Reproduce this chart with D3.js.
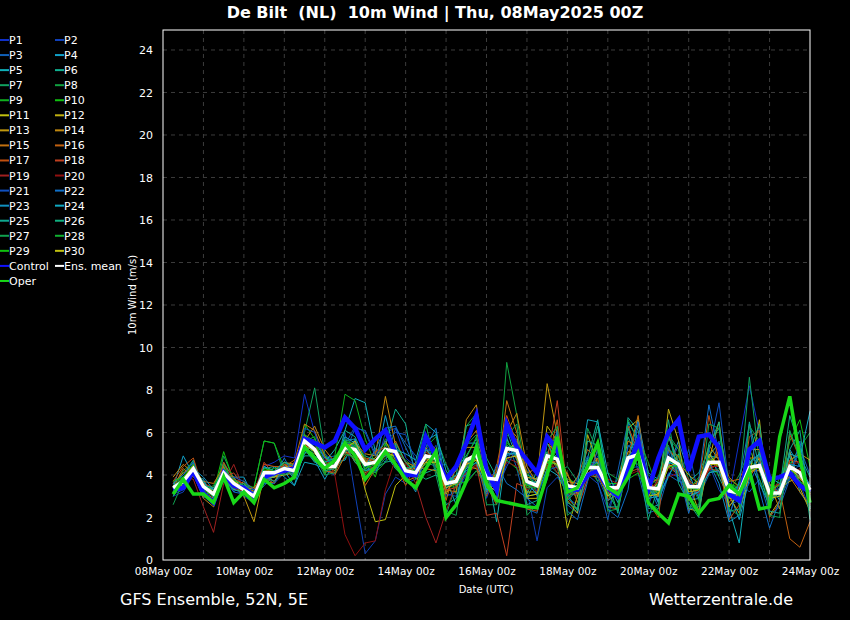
<!DOCTYPE html>
<html><head><meta charset="utf-8">
<script src="https://cdn.jsdelivr.net/npm/d3@7"></script>
<style>
html,body{margin:0;padding:0;background:#000;}
svg{display:block;font-family:"DejaVu Sans",sans-serif;}
</style></head>
<body>
<svg id="c" width="850" height="620"></svg>
<script>
// ---- data (m/s), 6-hourly from 08May 06z to 24May 00z ----
const runStart = "2025-05-08T00:00:00Z";
const runEnd = "2025-05-24T00:00:00Z";
const stepHours = 6;
const yTicks = [0,2,4,6,8,10,12,14,16,18,20,22,24];
const xTickLabels = ["08May 00z","10May 00z","12May 00z","14May 00z","16May 00z","18May 00z","20May 00z","22May 00z","24May 00z"];
const memberNames = ["P1","P2","P3","P4","P5","P6","P7","P8","P9","P10","P11","P12","P13","P14","P15","P16","P17","P18","P19","P20","P21","P22","P23","P24","P25","P26","P27","P28","P29","P30"];
const memberColors = ["#1030c8","#1040b8","#1060b8","#10a0c8","#10b0b8","#10b090","#10a060","#10a040","#10b020","#10c010","#c0c010","#c0b010","#c09810","#c08810","#c07010","#c06010","#c05010","#c04020","#a02020","#901010","#1050c0","#1070c8","#1090c0","#10a8c0","#10a890","#10b080","#10a050","#10b030","#10c010","#c0c010"];

const P1 = [3.2,3.5,4.6,3.0, 2.8,4.3,3.4,3.0, 2.7,4.4,4.6,4.9, 4.8,7.8,6.0,5.0, 4.6,5.5,5.0,3.9, 4.2,6.0,6.2,4.8, 4.4,5.5,4.2,3.0, 3.2,4.0,5.5,4.2, 3.1,4.6,5.7,4.4, 3.2,5.6,5.1,2.9, 2.6,3.8,4.9,3.8, 2.9,5.3,5.9,3.9, 2.8,4.1,3.9,2.6, 3.6,5.0,4.1,3.0, 5.6,8.2,6.0,3.4, 3.1,5.1,3.6,2.4];
const P2 = [3.0,3.2,4.0,2.9, 3.4,3.8,3.2,3.6, 3.2,3.9,3.6,4.1, 4.5,5.9,5.6,4.2, 4.0,6.0,3.1,0.3, 0.9,3.1,3.9,3.6, 3.8,4.6,5.4,3.1, 3.0,4.2,4.6,2.9, 4.1,4.9,5.6,3.3, 0.9,3.4,3.9,3.2, 3.1,4.0,3.6,2.4, 3.6,4.3,4.4,2.5, 4.0,4.4,5.4,3.1, 3.2,4.5,3.3,2.6, 2.8,3.9,4.9,2.7, 3.6,4.0,4.5,3.0];
const P3 = [3.3,3.6,4.4,3.6, 3.3,3.9,3.8,3.5, 3.3,4.0,3.9,4.6, 4.4,5.3,5.7,4.8, 4.9,5.0,6.2,6.1, 5.0,4.6,6.2,5.5, 4.9,4.6,4.4,4.5, 3.6,3.7,4.2,3.5, 2.9,5.8,4.3,2.4, 2.2,4.3,6.1,2.6, 2.2,4.8,3.7,1.9, 4.2,6.5,4.1,2.2, 2.4,4.0,3.7,5.2, 3.0,4.0,5.6,2.0, 3.7,3.2,3.8,2.1, 2.5,3.8,5.3,4.0];
const P4 = [3.4,4.9,4.0,3.8, 2.9,4.5,3.9,3.9, 2.9,3.6,4.4,3.9, 3.5,5.2,4.7,3.8, 4.6,4.7,5.7,4.2, 4.4,6.8,4.9,4.3, 4.5,4.2,5.2,3.8, 2.6,5.5,5.5,3.3, 3.6,6.1,4.8,2.9, 3.9,4.5,5.0,3.6, 3.1,4.3,4.6,3.2, 2.3,4.6,6.6,4.1, 3.8,4.4,5.6,4.1, 2.9,4.9,4.8,3.2, 1.9,3.8,5.1,3.6, 2.8,5.2,4.4,3.5];
const P5 = [3.1,3.5,4.4,3.3, 3.4,4.4,3.3,3.5, 2.8,4.4,4.0,4.5, 4.1,5.3,4.9,4.6, 5.2,6.1,7.6,7.4, 5.1,5.0,4.3,4.0, 3.9,5.6,5.9,3.3, 4.3,4.9,5.7,4.4, 1.8,5.2,5.4,4.0, 3.8,5.7,5.0,3.3, 3.9,4.7,3.9,3.6, 2.7,6.5,5.7,2.9, 3.0,3.9,5.0,2.8, 2.9,4.9,5.5,2.4, 0.8,4.7,3.6,2.6, 3.3,4.9,3.2,2.5];
const P6 = [3.6,4.0,4.7,3.1, 3.2,4.6,3.5,3.0, 3.1,4.3,4.4,4.1, 4.6,5.8,5.3,4.9, 4.3,6.1,5.8,4.7, 4.5,5.4,7.1,6.4, 3.8,4.1,4.3,2.6, 2.9,4.4,5.3,3.9, 3.9,5.7,4.7,3.1, 4.2,5.1,4.4,2.9, 3.5,4.8,6.6,3.2, 3.8,5.8,4.7,2.8, 3.6,5.9,4.2,3.7, 4.1,5.2,3.9,2.9, 3.6,4.1,5.0,3.8, 3.0,6.0,4.9,3.9];
const P7 = [3.0,3.9,4.2,3.7, 2.9,4.9,3.8,3.2, 3.4,5.6,5.5,4.0, 4.2,6.0,8.1,5.0, 4.3,4.8,5.3,4.2, 5.1,5.5,4.3,3.8, 4.5,5.9,4.0,2.1, 3.6,5.6,6.8,3.3, 4.0,5.0,5.4,3.9, 3.6,4.6,4.1,4.4, 3.7,4.0,4.2,3.1, 3.2,4.7,5.2,4.0, 3.7,5.4,3.8,3.2, 3.6,4.1,4.3,3.6, 3.3,8.6,4.6,3.5, 3.0,4.0,3.7,2.9];
const P8 = [3.2,4.2,4.6,3.5, 3.0,3.8,3.4,3.7, 3.1,4.0,3.9,4.6, 4.0,5.0,5.2,4.3, 4.6,5.6,5.0,4.6, 4.2,4.8,5.0,4.7, 4.3,5.3,5.8,4.5, 3.1,6.3,6.9,4.6, 3.2,9.3,6.8,3.6, 3.4,5.0,6.0,3.2, 3.0,4.4,3.7,4.1, 3.8,4.7,4.5,3.4, 3.9,5.7,5.2,3.8, 2.8,4.3,4.5,3.2, 4.0,5.2,4.2,2.9, 3.4,4.5,5.3,6.0];
const P9 = [3.5,3.9,4.4,3.3, 3.5,4.5,3.6,3.4, 3.0,4.2,4.3,4.3, 4.3,5.4,5.6,4.0, 4.9,7.8,7.5,5.7, 4.5,5.7,5.3,4.6, 4.2,5.2,4.6,3.5, 3.4,4.8,5.8,3.4, 4.1,5.6,5.0,4.2, 3.1,5.5,4.6,3.8, 3.6,4.4,4.1,3.7, 2.9,4.5,5.8,4.6, 3.2,5.2,4.9,2.9, 3.4,4.4,4.0,3.8, 3.5,4.9,3.8,2.7, 3.9,4.6,4.0,2.8];
const P10 = [3.3,3.7,4.1,3.1, 3.2,5.1,3.7,3.6, 3.4,5.6,5.5,4.3, 3.9,6.4,5.7,4.9, 4.5,5.2,5.4,4.8, 3.9,5.5,5.2,4.3, 4.2,4.5,5.1,3.9, 3.7,3.6,4.2,3.5, 4.0,4.7,4.3,3.4, 3.7,4.4,5.2,4.0, 3.3,4.2,4.6,3.6, 3.6,3.8,4.1,3.0, 3.3,4.6,4.9,3.3, 3.9,4.5,5.1,3.6, 3.4,4.3,4.3,3.4, 3.5,5.6,6.6,4.4];
const P11 = [3.5,3.4,4.3,3.4, 3.3,3.9,3.5,3.1, 2.9,3.7,3.6,4.5, 4.2,5.5,4.7,4.2, 4.1,5.3,5.3,3.3, 1.8,1.9,3.5,4.0, 4.6,4.8,4.5,3.8, 3.5,4.8,4.7,3.9, 3.4,5.1,5.6,3.2, 3.2,4.6,4.5,1.5, 3.0,4.3,4.3,3.2, 3.3,4.6,5.1,3.0, 3.7,4.5,4.1,3.6, 2.3,5.0,4.4,3.0, 3.1,4.1,4.8,2.7, 3.4,3.7,3.9,3.5];
const P12 = [3.2,3.8,4.5,3.6, 3.0,4.0,3.9,3.2, 3.2,3.8,3.9,4.0, 4.1,5.2,5.0,4.6, 4.4,5.1,4.8,4.6, 4.8,5.6,4.7,4.3, 4.3,4.6,5.1,3.1, 4.0,4.4,4.3,3.6, 3.5,6.5,4.9,2.9, 2.9,6.3,5.6,2.8, 2.2,5.9,4.5,2.8, 3.1,6.2,6.6,3.3, 3.0,7.1,5.6,2.4, 2.3,4.7,6.5,3.0, 2.2,4.0,6.6,2.1, 2.8,5.1,3.4,2.3];
const P13 = [3.6,4.1,4.4,3.2, 2.9,4.2,3.5,3.0, 1.8,4.0,3.7,4.4, 4.4,5.9,5.1,4.5, 4.2,5.4,4.6,4.1, 4.4,4.9,5.0,3.8, 3.5,5.3,4.4,3.8, 4.2,5.3,5.3,3.2, 4.2,6.3,5.8,3.9, 3.8,8.3,5.9,3.7, 3.6,4.1,4.0,3.0, 3.5,5.1,5.0,3.5, 3.1,5.2,4.6,4.0, 3.6,4.8,4.5,3.5, 2.9,4.2,4.2,3.0, 3.1,4.4,3.8,3.4];
const P14 = [3.9,4.5,4.1,2.9, 2.5,3.9,3.3,3.7, 3.3,4.2,4.2,4.6, 4.5,5.6,6.3,5.2, 4.6,5.4,5.5,5.0, 4.9,7.7,5.4,3.7, 3.9,4.3,4.2,3.3, 3.2,6.6,7.3,4.1, 3.3,6.0,6.9,4.4, 3.6,5.5,5.0,4.0, 3.1,4.2,4.8,2.8, 3.6,5.6,5.3,3.8, 3.1,4.4,4.0,3.4, 3.7,5.4,4.7,3.1, 3.3,5.2,5.2,3.6, 2.4,4.7,5.0,4.7];
const P15 = [3.4,4.3,3.9,3.7, 3.6,4.4,3.4,3.3, 3.4,4.1,4.0,4.1, 4.6,6.4,6.1,4.9, 4.0,4.9,5.4,4.7, 4.7,4.9,5.6,4.6, 4.4,4.3,4.9,2.8, 4.5,5.5,6.1,3.9, 3.7,7.5,6.0,4.1, 4.3,5.0,4.3,4.1, 2.7,4.0,3.9,3.5, 3.2,4.8,6.8,3.3, 3.0,4.7,4.5,2.8, 3.8,4.2,5.2,3.9, 3.4,3.9,4.6,3.1, 3.6,3.9,3.2,2.6];
const P16 = [3.1,3.8,4.2,3.0, 3.1,4.3,3.7,3.1, 3.3,3.9,3.6,4.4, 4.7,5.5,5.3,4.1, 4.5,5.1,5.6,3.5, 4.3,5.3,4.6,3.5, 4.5,4.7,5.0,3.2, 3.9,4.5,5.2,3.5, 2.6,5.1,4.8,3.7, 3.4,4.7,4.6,3.2, 3.9,5.2,4.7,3.4, 3.3,4.6,4.8,3.6, 3.8,5.1,4.9,3.4, 3.4,4.3,4.5,3.7, 3.8,4.8,4.8,2.9, 3.3,1.0,0.6,1.8];
const P17 = [3.7,4.4,4.8,3.3, 2.6,4.6,3.8,3.6, 3.0,4.5,4.4,4.4, 3.8,5.7,5.5,4.4, 4.5,5.2,4.7,4.8, 4.7,5.0,5.1,4.2, 4.0,5.7,5.2,3.9, 3.7,4.5,4.7,3.0, 4.4,6.8,5.5,2.4, 2.3,4.4,6.6,2.9, 2.4,3.8,5.2,2.5, 2.4,6.3,5.1,2.7, 2.0,5.9,4.6,2.3, 3.6,6.8,4.6,1.9, 2.6,5.8,6.1,2.0, 2.7,5.9,4.8,2.4];
const P18 = [3.2,3.6,4.0,3.6, 3.4,3.9,4.1,3.4, 3.1,4.6,4.0,4.5, 4.4,5.7,5.2,4.2, 4.1,5.3,5.1,4.6, 5.1,5.3,4.9,4.3, 4.2,5.1,4.7,3.3, 3.4,4.1,4.5,2.1, 2.2,0.2,3.6,3.4, 3.6,4.7,7.5,3.1, 3.1,4.1,4.1,3.1, 3.4,4.1,4.3,3.2, 3.3,4.5,4.3,3.8, 3.2,4.3,4.2,2.7, 3.4,4.0,4.5,3.4, 3.2,4.7,4.6,3.1];
const P19 = [3.4,3.9,3.8,2.5, 1.3,3.6,4.5,3.3, 3.0,3.9,4.2,4.1, 4.5,5.4,5.3,4.5, 4.6,5.0,5.0,4.0, 4.6,4.9,5.2,4.6, 3.6,2.0,0.8,2.3, 3.6,4.1,4.4,3.9, 4.1,4.8,4.6,3.6, 3.2,4.9,4.1,3.4, 3.4,4.5,4.2,3.8, 3.6,4.8,4.8,3.1, 3.8,4.3,4.2,3.7, 3.1,4.4,4.4,3.2, 3.0,4.1,4.4,3.4, 3.6,4.0,4.3,3.0];
const P20 = [3.3,3.6,4.1,3.2, 3.2,3.8,3.4,3.2, 3.1,4.1,4.0,4.2, 4.0,5.2,5.6,4.8, 4.0,1.2,0.2,0.8, 0.9,3.3,4.8,4.5, 4.2,5.0,4.5,3.9, 3.9,4.3,4.9,3.6, 3.7,4.6,4.4,3.3, 3.6,4.5,4.3,3.4, 3.5,4.1,4.0,3.2, 3.6,4.0,4.2,3.3, 3.7,3.9,4.1,3.4, 3.3,4.2,4.6,3.1, 2.9,4.3,4.3,2.9, 3.4,4.5,4.6,3.2];
const P21 = [3.1,3.3,4.1,3.5, 3.0,3.7,3.9,3.7, 3.3,3.6,3.6,4.4, 4.1,6.2,6.0,4.6, 4.7,5.4,6.3,6.0, 4.9,5.6,6.0,5.9, 4.6,5.2,5.1,3.4, 3.7,4.3,5.2,3.7, 3.3,4.4,5.3,3.8, 3.0,4.2,4.4,3.0, 3.8,4.9,3.9,2.8, 3.2,4.9,4.7,3.6, 2.7,5.1,3.7,3.6, 3.4,5.1,7.4,3.4, 2.9,3.6,4.6,3.5, 3.0,4.2,3.9,3.3];
const P22 = [3.6,4.0,4.6,3.4, 3.1,4.0,3.2,3.1, 2.8,3.8,3.9,4.8, 3.9,5.4,4.6,4.5, 4.3,5.6,5.3,4.4, 5.2,6.2,6.3,5.3, 4.3,5.3,6.2,3.5, 3.8,4.0,5.3,3.1, 4.5,3.6,3.3,2.9, 2.5,3.8,6.1,2.3, 1.9,3.7,5.2,2.4, 2.0,3.3,6.5,3.5, 2.5,5.3,4.2,2.2, 3.8,7.3,5.0,2.0, 3.7,6.4,3.3,1.5, 2.8,3.9,5.6,2.7];
const P23 = [3.3,3.6,4.3,3.9, 3.3,4.1,3.4,3.4, 3.0,3.5,4.0,4.4, 3.8,5.0,5.6,4.8, 4.7,5.6,5.7,4.4, 4.1,5.1,5.4,4.0, 3.2,5.2,4.7,3.6, 4.0,4.6,4.8,4.1, 3.6,4.9,5.1,3.5, 3.7,5.0,4.7,2.8, 3.3,4.6,4.6,3.1, 3.0,5.4,4.9,3.4, 2.8,4.0,4.7,3.1, 3.4,4.6,3.6,1.8, 2.1,4.5,5.0,2.7, 3.4,4.5,4.4,3.5];
const P24 = [3.2,3.9,4.0,3.7, 3.0,4.3,3.6,3.5, 3.1,4.4,4.2,4.2, 3.5,4.6,4.5,4.3, 4.5,5.8,5.5,4.4, 4.6,4.9,5.2,5.0, 4.7,6.4,6.0,4.2, 3.5,4.3,4.6,3.3, 3.4,5.0,5.0,3.6, 3.1,4.3,4.0,3.2, 3.5,6.6,6.5,4.1, 3.0,4.9,5.3,3.8, 2.7,4.6,4.4,3.0, 3.2,4.1,4.2,2.9, 3.3,4.6,5.0,3.9, 3.6,5.0,4.8,7.0];
const P25 = [3.0,3.7,4.2,3.3, 3.3,3.8,3.3,3.2, 3.2,3.9,3.7,4.2, 4.0,4.9,4.9,4.2, 4.3,5.4,4.6,4.2, 4.3,4.6,4.7,4.3, 4.4,4.8,4.8,3.9, 3.7,4.2,4.6,4.0, 2.8,6.4,5.3,2.6, 2.8,5.5,4.6,2.7, 2.4,5.6,5.4,2.5, 2.5,6.7,6.1,2.4, 2.6,5.8,4.6,2.4, 2.5,5.3,6.5,2.3, 2.4,6.5,4.3,2.3, 2.2,5.2,6.1,2.4];
const P26 = [3.5,3.8,4.2,3.5, 3.4,4.1,3.4,3.6, 3.0,3.9,4.2,4.6, 4.4,5.2,4.6,4.6, 4.8,5.1,5.4,4.9, 4.7,5.0,5.5,4.6, 4.1,3.8,4.0,3.7, 4.0,6.3,6.5,4.8, 3.9,5.4,5.1,3.0, 3.1,4.6,5.3,3.1, 2.3,4.4,6.3,3.7, 2.2,6.2,4.8,1.9, 3.5,6.6,3.6,2.7, 2.0,5.5,6.2,3.5, 2.6,5.1,6.4,2.8, 3.3,6.8,5.3,1.9];
const P27 = [2.6,3.7,4.0,3.4, 3.1,4.3,3.8,3.5, 2.8,4.2,4.1,4.0, 4.3,5.7,4.9,4.0, 4.1,5.7,5.4,4.3, 4.5,5.0,4.8,3.9, 4.3,6.4,4.3,2.3, 2.1,5.4,5.9,2.6, 2.6,5.8,6.4,2.1, 2.6,5.6,6.3,2.1, 2.5,6.2,5.1,2.3, 2.4,6.6,5.6,2.7, 2.4,5.9,5.2,2.5, 2.6,6.4,6.2,2.4, 2.1,6.3,5.6,2.1, 2.0,6.1,4.8,2.5];
const P28 = [3.4,3.6,4.2,3.3, 3.0,4.0,3.6,3.0, 3.1,4.0,4.1,4.3, 4.2,5.6,5.8,4.1, 4.5,5.0,4.8,4.5, 4.1,4.6,5.1,4.4, 3.8,4.4,4.6,3.7, 3.5,4.4,4.7,3.7, 3.9,5.5,5.1,3.4, 3.4,4.6,4.5,2.8, 3.5,4.3,4.5,3.1, 2.4,4.5,4.8,3.2, 3.2,4.4,4.4,3.4, 3.3,4.8,4.4,3.3, 2.8,4.1,4.5,3.4, 3.1,4.4,3.7,3.3];
const P29 = [3.7,3.9,4.5,3.4, 3.1,4.2,3.5,3.4, 3.0,4.3,4.2,4.1, 4.4,5.9,5.5,4.6, 4.3,5.6,5.4,4.3, 4.6,5.2,5.0,4.2, 4.2,4.8,4.9,3.5, 3.8,4.6,4.9,3.7, 3.6,5.3,5.2,3.5, 3.5,4.6,4.9,3.4, 3.4,4.3,4.4,3.3, 3.5,4.6,4.7,3.3, 3.3,4.7,4.4,3.4, 3.3,4.6,4.6,3.2, 3.3,4.4,4.3,3.1, 3.1,4.2,4.1,3.2];
const P30 = [3.5,3.5,4.3,3.5, 3.2,4.0,3.7,3.4, 3.1,3.9,3.9,4.2, 4.3,5.4,5.1,4.3, 4.4,5.2,5.6,4.6, 4.5,5.0,4.9,4.1, 4.0,4.6,4.6,3.4, 3.6,4.5,4.7,3.6, 3.2,4.8,4.9,3.0, 3.1,4.7,4.5,3.3, 3.2,4.1,4.3,3.0, 3.4,4.5,5.1,3.0, 3.1,4.4,4.6,3.2, 3.3,4.5,4.5,2.5, 3.2,4.1,4.4,2.9, 3.0,4.3,3.9,3.1];

const control = [3.3,3.4,4.2,3.15, 2.7,4.1,3.5,3.4, 3.0,3.9,4.1,4.2, 4.3,5.7,5.5,5.3, 5.6,6.7,6.2,5.2, 5.7,6.1,5.0,4.0, 4.0,5.8,4.9,3.8, 4.4,5.5,6.8,4.2, 3.3,6.4,5.3,4.7, 4.1,5.8,5.2,3.3, 3.3,4.0,4.2,3.4, 3.0,4.3,5.6,3.3, 4.8,6.0,6.6,4.2, 5.8,5.9,5.3,3.1, 2.8,5.2,5.6,3.8, 3.9,4.1,3.5,3.2];
const oper = [3.1,3.8,3.1,3.1, 2.7,3.9,2.7,3.2, 2.7,3.8,3.4,3.6, 3.9,5.3,4.8,4.3, 4.7,5.5,4.9,3.8, 4.4,5.1,4.5,3.8, 3.4,4.3,5.1,2.0, 2.6,3.7,5.3,3.6, 2.8,2.7,2.6,2.5, 2.45,4.0,5.8,3.2, 3.4,4.4,5.5,3.4, 3.1,3.9,5.0,2.7, 2.2,1.75,3.1,3.0, 2.2,2.8,2.9,3.5, 3.1,4.2,2.4,2.5, 5.8,7.7,4.8,2.7];
const ensMean = [3.4,3.7,4.3,3.45, 3.1,4.1,3.6,3.3, 3.0,4.1,4.1,4.3, 4.2,5.6,5.2,4.4, 4.4,5.3,5.2,4.5, 4.6,5.2,5.1,4.2, 4.1,4.9,4.8,3.6, 3.7,4.7,4.95,3.85, 3.8,5.25,5.15,3.7, 3.5,4.9,4.75,3.5, 3.4,4.35,4.35,3.4, 3.4,4.8,4.95,3.4, 3.35,4.8,4.5,3.45, 3.45,4.6,4.6,3.25, 3.15,4.35,4.45,3.15, 3.15,4.4,4.1,3.3];

const members = [P1,P2,P3,P4,P5,P6,P7,P8,P9,P10,P11,P12,P13,P14,P15,P16,P17,P18,P19,P20,P21,P22,P23,P24,P25,P26,P27,P28,P29,P30];

// ---- drawing ----
const svg = d3.select("#c");
svg.append("rect").attr("width",850).attr("height",620).attr("fill","#000");

const t0 = new Date(runStart), t1 = new Date(runEnd);
const x = d3.scaleUtc().domain([t0,t1]).range([163,810]);
const y = d3.scaleLinear().domain([0,24.94]).range([560,30]);
const timeAt = i => new Date(t0.getTime() + (i+1)*stepHours*3600e3);

// grid
const days = d3.utcDay.range(d3.utcDay.offset(t0,1), t1);
svg.append("g").selectAll("line").data(days).join("line")
  .attr("x1",d=>x(d)).attr("x2",d=>x(d)).attr("y1",30).attr("y2",560)
  .attr("stroke","#3c3c3c").attr("stroke-dasharray","4,4").attr("stroke-width",1);
svg.append("g").selectAll("line").data(yTicks.filter(v=>v>0)).join("line")
  .attr("x1",163).attr("x2",810).attr("y1",d=>y(d)).attr("y2",d=>y(d))
  .attr("stroke","#3c3c3c").attr("stroke-dasharray","4,4").attr("stroke-width",1);

// lines
const line = d3.line().x((d,i)=>x(timeAt(i))).y(d=>y(d));
const gl = svg.append("g");
members.forEach((m,k)=>{
  gl.append("path").attr("d",line(m)).attr("fill","none")
    .attr("stroke",memberColors[k]).attr("stroke-width",1).attr("stroke-linejoin","miter");
});
gl.append("path").attr("d",line(control)).attr("fill","none").attr("stroke","#1010ff").attr("stroke-width",4.5);
gl.append("path").attr("d",line(ensMean)).attr("fill","none").attr("stroke","#ffffff").attr("stroke-width",3.5);
gl.append("path").attr("d",line(oper)).attr("fill","none").attr("stroke","#18d818").attr("stroke-width",3.5);

// frame
svg.append("rect").attr("x",163).attr("y",30).attr("width",647).attr("height",530)
  .attr("fill","none").attr("stroke","#ffffff").attr("stroke-width",1);

// axes
const yAxis = d3.axisLeft(y).tickValues(yTicks).tickSize(0).tickPadding(10).tickFormat(d3.format("d"));
const ga = svg.append("g").attr("transform","translate(163,0)").call(yAxis);
ga.select(".domain").remove();
ga.selectAll("text").attr("fill","#fff").attr("font-size",11).attr("font-family","DejaVu Sans");

const xTickDates = xTickLabels.map((s,i)=>d3.utcDay.offset(t0,2*i));
const xAxis = d3.axisBottom(x).tickValues(xTickDates).tickSize(0).tickPadding(8).tickFormat((d,i)=>xTickLabels[i]);
const gx = svg.append("g").attr("transform","translate(0,560)").call(xAxis);
gx.select(".domain").remove();
gx.selectAll("text").attr("fill","#fff").attr("font-size",10.5).attr("font-family","DejaVu Sans");

svg.append("text").attr("x",486).attr("y",593).attr("text-anchor","middle")
  .attr("fill","#fff").attr("font-size",10).text("Date (UTC)");
svg.append("text").attr("transform","translate(136,295) rotate(-90)").attr("text-anchor","middle")
  .attr("fill","#fff").attr("font-size",10).text("10m Wind (m/s)");

// title & footer
svg.append("text").attr("x",435).attr("y",18).attr("text-anchor","middle")
  .attr("fill","#fff").attr("font-size",16).attr("font-weight","bold").style("white-space","pre")
  .text("De Bilt  (NL)  10m Wind | Thu, 08May2025 00Z");
svg.append("text").attr("x",120).attr("y",605).attr("fill","#fff").attr("font-size",16)
  .text("GFS Ensemble, 52N, 5E");
svg.append("text").attr("x",793).attr("y",605).attr("text-anchor","end").attr("fill","#fff").attr("font-size",16)
  .text("Wetterzentrale.de");

// legend
const legendItems = memberNames.map((n,i)=>({name:n,color:memberColors[i]}))
  .concat([{name:"Control",color:"#1010ff"},{name:"Ens. mean",color:"#ffffff"},{name:"Oper",color:"#18d818"}]);
const lg = svg.append("g");
legendItems.forEach((it,i)=>{
  const col = i%2, row = Math.floor(i/2);
  const lx = col===0 ? 0 : 55;
  const ly = 40 + row*15.06;
  lg.append("line").attr("x1",lx).attr("x2",lx+9).attr("y1",ly).attr("y2",ly)
    .attr("stroke",it.color).attr("stroke-width",2);
  lg.append("text").attr("x",lx+9).attr("y",ly+4).attr("fill","#fff").attr("font-size",11).text(it.name);
});
</script>
</body></html>
